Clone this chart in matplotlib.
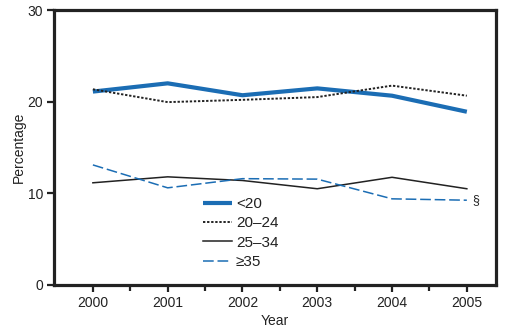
import matplotlib
matplotlib.use("Agg")
import matplotlib.pyplot as plt

years = [2000, 2001, 2002, 2003, 2004, 2005]
under20 = [21.1, 22.0, 20.7, 21.45, 20.65, 18.9]
age20_24 = [21.35, 19.95, 20.2, 20.5, 21.75, 20.65]
age25_34 = [11.15, 11.8, 11.4, 10.5, 11.75, 10.5]
age35plus = [13.1, 10.6, 11.6, 11.55, 9.4, 9.25]
labels = ["<20", "20\u201324", "25\u201334", "\u226535"]
yticks = [0, 10, 20, 30]

plt.rcParams['font.family'] = ['Liberation Sans', 'DejaVu Sans']

W, H = 515, 330
fig = plt.figure(figsize=(W / 100, H / 100), dpi=100)
ax = fig.add_axes([54 / W, 45 / H, (496 - 54) / W, (285 - 10) / H])

blue = '#1b6db4'
ax.plot(years, under20, color=blue, lw=3.0, solid_capstyle='butt', label=labels[0])
ax.plot(years, age20_24, color='#222222', lw=1.4, linestyle=(0, (1.2, 0.9)), label=labels[1])
ax.plot(years, age25_34, color='#222222', lw=1.1, label=labels[2])
ax.plot(years, age35plus, color=blue, lw=1.1, linestyle=(0, (7, 2.5)), label=labels[3])

ax.text(2005.07, age35plus[-1], "\u00a7", fontsize=9, va='center', ha='left', color='#222222')

ax.set_xlim(1999.48, 2005.39)
ax.set_ylim(0, 30)
ax.set_xticks(years)
ax.set_xticks([y + 0.5 for y in years[:-1]], minor=True)
ax.set_yticks(yticks)
ax.tick_params(axis='both', which='major', direction='out', length=5, width=1.6,
               labelsize=10, colors='#222222', pad=3)
ax.tick_params(axis='x', which='minor', direction='out', length=4, width=1.6, colors='#222222')
for s in ax.spines.values():
    s.set_linewidth(2.3)
    s.set_color('#222222')

ax.set_xlabel("Year", fontsize=10, color='#222222', labelpad=3)
ax.set_ylabel("Percentage", fontsize=10, color='#222222', labelpad=1)

leg = ax.legend(loc='upper left', bbox_to_anchor=((203 - 54) / (496 - 54), (285 - 197) / 275),
                frameon=False, fontsize=11, handlelength=1.9, handletextpad=0.25,
                labelspacing=0.35, borderaxespad=0, borderpad=0)
for t in leg.get_texts():
    t.set_color('#222222')

fig.savefig("out.png", dpi=100)
